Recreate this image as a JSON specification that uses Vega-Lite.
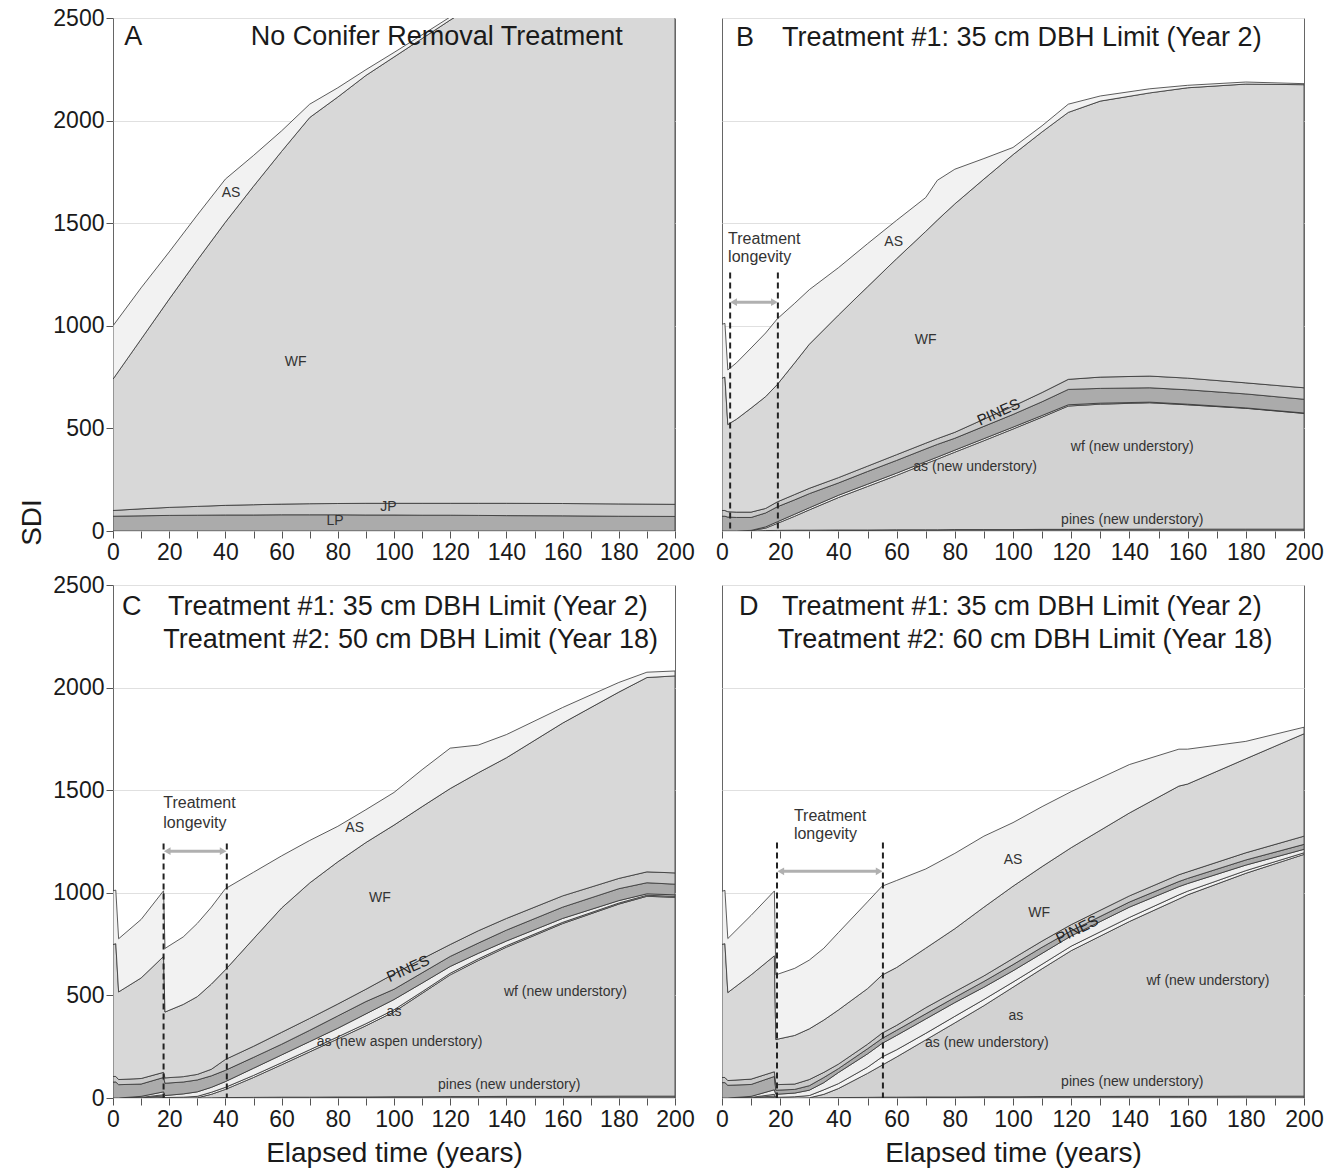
{
"$schema": "https://vega.github.io/schema/vega-lite/v6.json",
"background": "white",
"padding": {"left": 18, "top": 6, "right": 5, "bottom": 5},
"config": {
  "font": "Liberation Sans",
  "view": {"stroke": "#666", "strokeWidth": 1},
  "axis": {"labelFont": "Liberation Sans", "labelFontSize": 23, "labelColor": "#1a1a1a", "tickColor": "#555", "tickSize": 7, "tickWidth": 1, "domain": false, "titleFont": "Liberation Sans", "titleFontSize": 28, "titleFontWeight": "normal", "titleColor": "#1a1a1a", "gridColor": "#e0e0e0", "labelOverlap": false, "labelFlush": false}
},
"datasets": {
  "bands": [
    {"panel":"A","yr":0,"p":0,"w":0,"an":0,"a":0,"lp":72,"pi":100,"wf":740,"as":1000},
    {"panel":"A","yr":10,"p":0,"w":0,"an":0,"a":0,"lp":74,"pi":108,"wf":935,"as":1185},
    {"panel":"A","yr":20,"p":0,"w":0,"an":0,"a":0,"lp":76,"pi":115,"wf":1130,"as":1360},
    {"panel":"A","yr":30,"p":0,"w":0,"an":0,"a":0,"lp":77,"pi":120,"wf":1320,"as":1540},
    {"panel":"A","yr":40,"p":0,"w":0,"an":0,"a":0,"lp":78,"pi":125,"wf":1505,"as":1715},
    {"panel":"A","yr":50,"p":0,"w":0,"an":0,"a":0,"lp":78,"pi":128,"wf":1680,"as":1830},
    {"panel":"A","yr":60,"p":0,"w":0,"an":0,"a":0,"lp":79,"pi":131,"wf":1850,"as":1950},
    {"panel":"A","yr":70,"p":0,"w":0,"an":0,"a":0,"lp":79,"pi":133,"wf":2015,"as":2080},
    {"panel":"A","yr":80,"p":0,"w":0,"an":0,"a":0,"lp":79,"pi":134,"wf":2115,"as":2160},
    {"panel":"A","yr":90,"p":0,"w":0,"an":0,"a":0,"lp":78,"pi":135,"wf":2220,"as":2248},
    {"panel":"A","yr":100,"p":0,"w":0,"an":0,"a":0,"lp":78,"pi":135,"wf":2310,"as":2332},
    {"panel":"A","yr":110,"p":0,"w":0,"an":0,"a":0,"lp":77,"pi":135,"wf":2400,"as":2418},
    {"panel":"A","yr":120,"p":0,"w":0,"an":0,"a":0,"lp":77,"pi":135,"wf":2490,"as":2505},
    {"panel":"A","yr":130,"p":0,"w":0,"an":0,"a":0,"lp":76,"pi":135,"wf":2575,"as":2590},
    {"panel":"A","yr":140,"p":0,"w":0,"an":0,"a":0,"lp":75,"pi":135,"wf":2655,"as":2670},
    {"panel":"A","yr":160,"p":0,"w":0,"an":0,"a":0,"lp":74,"pi":134,"wf":2800,"as":2815},
    {"panel":"A","yr":180,"p":0,"w":0,"an":0,"a":0,"lp":72,"pi":132,"wf":2930,"as":2945},
    {"panel":"A","yr":200,"p":0,"w":0,"an":0,"a":0,"lp":71,"pi":130,"wf":3050,"as":3065},

    {"panel":"B","yr":0,"p":0,"w":0,"an":0,"a":0,"lp":72,"pi":100,"wf":745,"as":1007},
    {"panel":"B","yr":1,"p":0,"w":0,"an":0,"a":0,"lp":72,"pi":100,"wf":750,"as":1012},
    {"panel":"B","yr":2,"p":0,"w":0,"an":0,"a":0,"lp":68,"pi":94,"wf":519,"as":785},
    {"panel":"B","yr":5,"p":0,"w":0,"an":0,"a":0,"lp":66,"pi":92,"wf":545,"as":820},
    {"panel":"B","yr":10,"p":0,"w":2,"an":3,"a":3,"lp":66,"pi":92,"wf":599,"as":892},
    {"panel":"B","yr":15,"p":2,"w":14,"an":20,"a":20,"lp":88,"pi":110,"wf":655,"as":965},
    {"panel":"B","yr":19,"p":3,"w":37,"an":45,"a":45,"lp":118,"pi":142,"wf":714,"as":1034},
    {"panel":"B","yr":25,"p":4,"w":72,"an":82,"a":82,"lp":152,"pi":178,"wf":820,"as":1110},
    {"panel":"B","yr":30,"p":4,"w":103,"an":113,"a":113,"lp":182,"pi":208,"wf":910,"as":1176},
    {"panel":"B","yr":40,"p":5,"w":163,"an":174,"a":174,"lp":234,"pi":260,"wf":1052,"as":1283},
    {"panel":"B","yr":50,"p":5,"w":217,"an":228,"a":228,"lp":290,"pi":316,"wf":1190,"as":1400},
    {"panel":"B","yr":60,"p":6,"w":271,"an":282,"a":282,"lp":344,"pi":372,"wf":1327,"as":1514},
    {"panel":"B","yr":70,"p":6,"w":328,"an":338,"a":338,"lp":400,"pi":428,"wf":1460,"as":1625},
    {"panel":"B","yr":74,"p":6,"w":350,"an":360,"a":360,"lp":422,"pi":450,"wf":1515,"as":1709},
    {"panel":"B","yr":80,"p":7,"w":384,"an":394,"a":394,"lp":452,"pi":481,"wf":1594,"as":1763},
    {"panel":"B","yr":90,"p":7,"w":440,"an":450,"a":450,"lp":510,"pi":545,"wf":1715,"as":1815},
    {"panel":"B","yr":100,"p":7,"w":497,"an":506,"a":506,"lp":568,"pi":608,"wf":1834,"as":1869},
    {"panel":"B","yr":110,"p":8,"w":555,"an":563,"a":563,"lp":630,"pi":675,"wf":1945,"as":1975},
    {"panel":"B","yr":119,"p":8,"w":609,"an":615,"a":615,"lp":690,"pi":739,"wf":2040,"as":2080},
    {"panel":"B","yr":130,"p":8,"w":618,"an":623,"a":623,"lp":695,"pi":750,"wf":2095,"as":2120},
    {"panel":"B","yr":147,"p":9,"w":625,"an":628,"a":628,"lp":698,"pi":755,"wf":2135,"as":2155},
    {"panel":"B","yr":160,"p":9,"w":615,"an":618,"a":618,"lp":688,"pi":745,"wf":2160,"as":2172},
    {"panel":"B","yr":180,"p":9,"w":598,"an":600,"a":600,"lp":668,"pi":722,"wf":2178,"as":2188},
    {"panel":"B","yr":200,"p":9,"w":573,"an":575,"a":575,"lp":642,"pi":698,"wf":2175,"as":2180},

    {"panel":"C","yr":0,"p":0,"w":0,"an":0,"a":0,"lp":78,"pi":105,"wf":748,"as":1010},
    {"panel":"C","yr":1,"p":0,"w":0,"an":0,"a":0,"lp":78,"pi":105,"wf":752,"as":1013},
    {"panel":"C","yr":2,"p":0,"w":0,"an":0,"a":0,"lp":65,"pi":90,"wf":517,"as":776},
    {"panel":"C","yr":10,"p":0,"w":1,"an":3,"a":8,"lp":68,"pi":95,"wf":585,"as":870},
    {"panel":"C","yr":18,"p":2,"w":10,"an":16,"a":30,"lp":100,"pi":125,"wf":690,"as":1010},
    {"panel":"C","yr":18.5,"p":0,"w":0,"an":2,"a":12,"lp":72,"pi":98,"wf":419,"as":729},
    {"panel":"C","yr":25,"p":0,"w":0,"an":4,"a":20,"lp":78,"pi":104,"wf":456,"as":785},
    {"panel":"C","yr":30,"p":0,"w":1,"an":8,"a":30,"lp":88,"pi":115,"wf":494,"as":851},
    {"panel":"C","yr":35,"p":1,"w":18,"an":28,"a":52,"lp":108,"pi":140,"wf":555,"as":930},
    {"panel":"C","yr":40,"p":2,"w":42,"an":52,"a":80,"lp":135,"pi":188,"wf":625,"as":1020},
    {"panel":"C","yr":50,"p":3,"w":100,"an":110,"a":145,"lp":198,"pi":252,"wf":776,"as":1100},
    {"panel":"C","yr":60,"p":4,"w":162,"an":172,"a":210,"lp":262,"pi":320,"wf":926,"as":1180},
    {"panel":"C","yr":70,"p":4,"w":225,"an":235,"a":275,"lp":330,"pi":388,"wf":1048,"as":1255},
    {"panel":"C","yr":80,"p":5,"w":288,"an":298,"a":340,"lp":400,"pi":458,"wf":1151,"as":1324},
    {"panel":"C","yr":90,"p":5,"w":352,"an":362,"a":410,"lp":470,"pi":530,"wf":1245,"as":1405},
    {"panel":"C","yr":100,"p":6,"w":420,"an":430,"a":480,"lp":530,"pi":605,"wf":1330,"as":1489},
    {"panel":"C","yr":110,"p":6,"w":510,"an":518,"a":560,"lp":610,"pi":678,"wf":1420,"as":1600},
    {"panel":"C","yr":120,"p":7,"w":600,"an":608,"a":641,"lp":690,"pi":748,"wf":1508,"as":1705},
    {"panel":"C","yr":130,"p":7,"w":670,"an":678,"a":705,"lp":755,"pi":815,"wf":1585,"as":1720},
    {"panel":"C","yr":140,"p":8,"w":735,"an":742,"a":765,"lp":818,"pi":875,"wf":1658,"as":1771},
    {"panel":"C","yr":160,"p":8,"w":850,"an":856,"a":875,"lp":930,"pi":985,"wf":1827,"as":1903},
    {"panel":"C","yr":180,"p":9,"w":945,"an":950,"a":962,"lp":1020,"pi":1070,"wf":1978,"as":2025},
    {"panel":"C","yr":190,"p":9,"w":983,"an":988,"a":995,"lp":1049,"pi":1102,"wf":2049,"as":2075},
    {"panel":"C","yr":200,"p":9,"w":978,"an":983,"a":990,"lp":1042,"pi":1097,"wf":2057,"as":2081},

    {"panel":"D","yr":0,"p":0,"w":0,"an":0,"a":0,"lp":75,"pi":100,"wf":749,"as":1007},
    {"panel":"D","yr":1,"p":0,"w":0,"an":0,"a":0,"lp":75,"pi":100,"wf":752,"as":1012},
    {"panel":"D","yr":2,"p":0,"w":0,"an":0,"a":0,"lp":62,"pi":85,"wf":514,"as":777},
    {"panel":"D","yr":10,"p":0,"w":1,"an":3,"a":8,"lp":66,"pi":92,"wf":600,"as":890},
    {"panel":"D","yr":18,"p":2,"w":10,"an":18,"a":40,"lp":105,"pi":128,"wf":693,"as":1009},
    {"panel":"D","yr":18.5,"p":0,"w":0,"an":3,"a":18,"lp":38,"pi":65,"wf":285,"as":600},
    {"panel":"D","yr":25,"p":0,"w":0,"an":6,"a":24,"lp":42,"pi":68,"wf":305,"as":632},
    {"panel":"D","yr":30,"p":0,"w":1,"an":12,"a":38,"lp":60,"pi":90,"wf":337,"as":672},
    {"panel":"D","yr":35,"p":1,"w":18,"an":40,"a":75,"lp":100,"pi":125,"wf":380,"as":730},
    {"panel":"D","yr":40,"p":2,"w":46,"an":70,"a":124,"lp":143,"pi":165,"wf":429,"as":806},
    {"panel":"D","yr":50,"p":3,"w":120,"an":150,"a":215,"lp":240,"pi":262,"wf":533,"as":956},
    {"panel":"D","yr":55,"p":4,"w":160,"an":200,"a":266,"lp":290,"pi":316,"wf":599,"as":1032},
    {"panel":"D","yr":60,"p":4,"w":200,"an":235,"a":305,"lp":330,"pi":354,"wf":636,"as":1060},
    {"panel":"D","yr":70,"p":5,"w":283,"an":315,"a":385,"lp":410,"pi":440,"wf":730,"as":1116},
    {"panel":"D","yr":80,"p":5,"w":366,"an":398,"a":465,"lp":490,"pi":518,"wf":825,"as":1192},
    {"panel":"D","yr":90,"p":6,"w":450,"an":480,"a":540,"lp":568,"pi":595,"wf":930,"as":1276},
    {"panel":"D","yr":100,"p":6,"w":540,"an":565,"a":620,"lp":650,"pi":680,"wf":1032,"as":1342},
    {"panel":"D","yr":110,"p":7,"w":630,"an":652,"a":705,"lp":735,"pi":765,"wf":1128,"as":1420},
    {"panel":"D","yr":120,"p":7,"w":718,"an":740,"a":790,"lp":815,"pi":845,"wf":1220,"as":1493},
    {"panel":"D","yr":140,"p":8,"w":860,"an":880,"a":930,"lp":955,"pi":985,"wf":1389,"as":1625},
    {"panel":"D","yr":157,"p":8,"w":970,"an":990,"a":1030,"lp":1055,"pi":1088,"wf":1520,"as":1700},
    {"panel":"D","yr":160,"p":8,"w":990,"an":1008,"a":1045,"lp":1070,"pi":1102,"wf":1530,"as":1700},
    {"panel":"D","yr":180,"p":9,"w":1095,"an":1108,"a":1135,"lp":1160,"pi":1195,"wf":1653,"as":1738},
    {"panel":"D","yr":200,"p":9,"w":1187,"an":1195,"a":1212,"lp":1236,"pi":1276,"wf":1775,"as":1807}
  ],
  "dashes": [
    {"panel":"B","yr":2.8,"v":1260},{"panel":"B","yr":19.2,"v":1260},
    {"panel":"C","yr":18,"v":1240},{"panel":"C","yr":40.5,"v":1240},
    {"panel":"D","yr":18.9,"v":1245},{"panel":"D","yr":55.3,"v":1245}
  ],
  "arrows": [
    {"panel":"B","yr":4.0,"yr2":18.0,"v":1115},
    {"panel":"C","yr":19.3,"yr2":39.2,"v":1203},
    {"panel":"D","yr":20.2,"yr2":54.0,"v":1105}
  ],
  "labels": [
    {"panel":"A","yr":42,"v":1647,"t":"AS"},{"panel":"A","yr":65,"v":823,"t":"WF"},{"panel":"A","yr":98,"v":117,"t":"JP"},{"panel":"A","yr":79,"v":49,"t":"LP"},
    {"panel":"B","yr":59,"v":1408,"t":"AS"},{"panel":"B","yr":70,"v":930,"t":"WF"},{"panel":"B","yr":95,"v":580,"t":"PINES"},{"panel":"B","yr":141,"v":409,"t":"wf (new understory)"},{"panel":"B","yr":87,"v":312,"t":"as (new understory)"},{"panel":"B","yr":141,"v":54,"t":"pines (new understory)"},
    {"panel":"C","yr":86,"v":1316,"t":"AS"},{"panel":"C","yr":95,"v":974,"t":"WF"},{"panel":"C","yr":105,"v":631,"t":"PINES"},{"panel":"C","yr":100,"v":421,"t":"as"},{"panel":"C","yr":102,"v":274,"t":"as (new aspen understory)"},{"panel":"C","yr":161,"v":519,"t":"wf (new understory)"},{"panel":"C","yr":141,"v":64,"t":"pines (new understory)"},
    {"panel":"D","yr":100,"v":1160,"t":"AS"},{"panel":"D","yr":109,"v":900,"t":"WF"},{"panel":"D","yr":122,"v":822,"t":"PINES"},{"panel":"D","yr":101,"v":401,"t":"as"},{"panel":"D","yr":91,"v":269,"t":"as (new understory)"},{"panel":"D","yr":167,"v":572,"t":"wf (new understory)"},{"panel":"D","yr":141,"v":78,"t":"pines (new understory)"}
  ],
  "notes": [
    {"panel":"B","yr":2.1,"v":1423,"t":"Treatment"},{"panel":"B","yr":2.1,"v":1335,"t":"longevity"},
    {"panel":"C","yr":17.9,"v":1438,"t":"Treatment"},{"panel":"C","yr":17.9,"v":1340,"t":"longevity"},
    {"panel":"D","yr":24.7,"v":1375,"t":"Treatment"},{"panel":"D","yr":24.7,"v":1287,"t":"longevity"}
  ],
  "titles": [
    {"panel":"A","yr":4,"v":2405,"t":"A"},{"panel":"A","yr":49,"v":2405,"t":"No Conifer Removal Treatment"},
    {"panel":"B","yr":4.8,"v":2402,"t":"B"},{"panel":"B","yr":20.6,"v":2402,"t":"Treatment #1: 35 cm DBH Limit (Year 2)"},
    {"panel":"C","yr":3.2,"v":2392,"t":"C"},{"panel":"C","yr":19.6,"v":2392,"t":"Treatment #1: 35 cm DBH Limit (Year 2)"},{"panel":"C","yr":17.9,"v":2231,"t":"Treatment #2: 50 cm DBH Limit (Year 18)"},
    {"panel":"D","yr":5.8,"v":2392,"t":"D"},{"panel":"D","yr":20.6,"v":2392,"t":"Treatment #1: 35 cm DBH Limit (Year 2)"},{"panel":"D","yr":19.2,"v":2231,"t":"Treatment #2: 60 cm DBH Limit (Year 18)"}
  ]
},
"spacing": 8,
"vconcat": [
 {"hconcat": [
  {"width": 562, "height": 513,
   "encoding": {"x": {"field": "yr", "type": "quantitative", "scale": {"domain": [0,200], "nice": false, "zero": false}, "axis": {"values": [0,10,20,30,40,50,60,70,80,90,100,110,120,130,140,150,160,170,180,190,200], "labelExpr": "datum.value % 20 === 0 ? datum.label : ''", "title": null, "grid": false, "labelPadding": 3}}},
   "layer": [
    {"data": {"name": "bands"}, "transform": [{"filter": "datum.panel === 'A'"}],
     "layer": [
      {"mark": {"type": "area", "clip": true, "fill": "#ababab", "stroke": "#333", "strokeWidth": 0.8}, "encoding": {"y": {"field": "lp", "type": "quantitative", "scale": {"domain": [0,2500], "nice": false}}, "y2": {"datum": 0}}},
      {"mark": {"type": "area", "clip": true, "fill": "#cacaca", "stroke": "#333", "strokeWidth": 0.8}, "encoding": {"y": {"field": "pi", "type": "quantitative", "scale": {"domain": [0,2500], "nice": false}}, "y2": {"field": "lp"}}},
      {"mark": {"type": "area", "clip": true, "fill": "#d8d8d8", "stroke": "#333", "strokeWidth": 0.8}, "encoding": {"y": {"field": "wf", "type": "quantitative", "scale": {"domain": [0,2500], "nice": false}}, "y2": {"field": "pi"}}},
      {"mark": {"type": "area", "clip": true, "fill": "#f2f2f2", "stroke": "#333", "strokeWidth": 0.8}, "encoding": {"y": {"field": "as", "type": "quantitative", "scale": {"domain": [0,2500], "nice": false}}, "y2": {"field": "wf"}}}
     ]},
    {"data": {"name": "labels"}, "transform": [{"filter": "datum.panel === 'A' && datum.t !== 'PINES'"}], "mark": {"type": "text", "fontSize": 14, "color": "#333", "baseline": "middle"}, "encoding": {"y": {"field": "v", "type": "quantitative", "scale": {"domain": [0,2500], "nice": false}, "axis": {"values": [0,500,1000,1500,2000,2500], "format": "d", "grid": true, "title": "SDI", "titleY": 504, "titlePadding": 6}}, "text": {"field": "t"}}},
    {"data": {"name": "titles"}, "transform": [{"filter": "datum.panel === 'A'"}], "mark": {"type": "text", "fontSize": 27, "color": "#1a1a1a", "align": "left", "baseline": "middle"}, "encoding": {"y": {"field": "v", "type": "quantitative", "scale": {"domain": [0,2500], "nice": false}}, "text": {"field": "t"}}}
   ]},
  {"width": 582, "height": 513,
   "encoding": {"x": {"field": "yr", "type": "quantitative", "scale": {"domain": [0,200], "nice": false, "zero": false}, "axis": {"values": [0,10,20,30,40,50,60,70,80,90,100,110,120,130,140,150,160,170,180,190,200], "labelExpr": "datum.value % 20 === 0 ? datum.label : ''", "title": null, "grid": false, "labelPadding": 3}}},
   "layer": [
    {"data": {"name": "bands"}, "transform": [{"filter": "datum.panel === 'B'"}],
     "layer": [
      {"mark": {"type": "area", "clip": true, "fill": "#8a8a8a", "stroke": "#333", "strokeWidth": 0.8}, "encoding": {"y": {"field": "p", "type": "quantitative", "scale": {"domain": [0,2500], "nice": false}}, "y2": {"datum": 0}}},
      {"mark": {"type": "area", "clip": true, "fill": "#d2d2d2", "stroke": "#333", "strokeWidth": 0.8}, "encoding": {"y": {"field": "w", "type": "quantitative", "scale": {"domain": [0,2500], "nice": false}}, "y2": {"field": "p"}}},
      {"mark": {"type": "area", "clip": true, "fill": "#f3f3f3", "stroke": "#333", "strokeWidth": 0.8}, "encoding": {"y": {"field": "an", "type": "quantitative", "scale": {"domain": [0,2500], "nice": false}}, "y2": {"field": "w"}}},
      {"mark": {"type": "area", "clip": true, "fill": "#ababab", "stroke": "#333", "strokeWidth": 0.8}, "encoding": {"y": {"field": "lp", "type": "quantitative", "scale": {"domain": [0,2500], "nice": false}}, "y2": {"field": "a"}}},
      {"mark": {"type": "area", "clip": true, "fill": "#cacaca", "stroke": "#333", "strokeWidth": 0.8}, "encoding": {"y": {"field": "pi", "type": "quantitative", "scale": {"domain": [0,2500], "nice": false}}, "y2": {"field": "lp"}}},
      {"mark": {"type": "area", "clip": true, "fill": "#d8d8d8", "stroke": "#333", "strokeWidth": 0.8}, "encoding": {"y": {"field": "wf", "type": "quantitative", "scale": {"domain": [0,2500], "nice": false}}, "y2": {"field": "pi"}}},
      {"mark": {"type": "area", "clip": true, "fill": "#f2f2f2", "stroke": "#333", "strokeWidth": 0.8}, "encoding": {"y": {"field": "as", "type": "quantitative", "scale": {"domain": [0,2500], "nice": false}}, "y2": {"field": "wf"}}}
     ]},
    {"data": {"name": "dashes"}, "transform": [{"filter": "datum.panel === 'B'"}], "mark": {"type": "rule", "strokeDash": [6,4], "strokeWidth": 2, "color": "#222"}, "encoding": {"y": {"field": "v", "type": "quantitative", "scale": {"domain": [0,2500], "nice": false}}, "y2": {"datum": 0}}},
    {"data": {"name": "arrows"}, "transform": [{"filter": "datum.panel === 'B'"}], "mark": {"type": "rule", "strokeWidth": 3, "color": "#b0b0b0"}, "encoding": {"x2": {"field": "yr2"}, "y": {"field": "v", "type": "quantitative", "scale": {"domain": [0,2500], "nice": false}}}},
    {"data": {"name": "arrows"}, "transform": [{"filter": "datum.panel === 'B'"}], "mark": {"type": "point", "shape": "triangle-left", "filled": true, "size": 60, "color": "#b0b0b0", "opacity": 1}, "encoding": {"y": {"field": "v", "type": "quantitative", "scale": {"domain": [0,2500], "nice": false}}}},
    {"data": {"name": "arrows"}, "transform": [{"filter": "datum.panel === 'B'"}], "mark": {"type": "point", "shape": "triangle-right", "filled": true, "size": 60, "color": "#b0b0b0", "opacity": 1}, "encoding": {"x": {"field": "yr2", "type": "quantitative", "scale": {"domain": [0,200], "nice": false, "zero": false}}, "y": {"field": "v", "type": "quantitative", "scale": {"domain": [0,2500], "nice": false}}}},
    {"data": {"name": "labels"}, "transform": [{"filter": "datum.panel === 'B' && datum.t !== 'PINES'"}], "mark": {"type": "text", "fontSize": 14, "color": "#333", "baseline": "middle"}, "encoding": {"y": {"field": "v", "type": "quantitative", "scale": {"domain": [0,2500], "nice": false}, "axis": {"values": [0,500,1000,1500,2000,2500], "grid": true, "labels": false, "ticks": false, "title": null}}, "text": {"field": "t"}}},
    {"data": {"name": "labels"}, "transform": [{"filter": "datum.panel === 'B' && datum.t === 'PINES'"}], "mark": {"type": "text", "fontSize": 15, "color": "#222", "baseline": "middle", "angle": 336}, "encoding": {"y": {"field": "v", "type": "quantitative", "scale": {"domain": [0,2500], "nice": false}}, "text": {"field": "t"}}},
    {"data": {"name": "notes"}, "transform": [{"filter": "datum.panel === 'B'"}], "mark": {"type": "text", "fontSize": 16, "color": "#333", "align": "left", "baseline": "middle"}, "encoding": {"y": {"field": "v", "type": "quantitative", "scale": {"domain": [0,2500], "nice": false}}, "text": {"field": "t"}}},
    {"data": {"name": "titles"}, "transform": [{"filter": "datum.panel === 'B'"}], "mark": {"type": "text", "fontSize": 27, "color": "#1a1a1a", "align": "left", "baseline": "middle"}, "encoding": {"y": {"field": "v", "type": "quantitative", "scale": {"domain": [0,2500], "nice": false}}, "text": {"field": "t"}}}
   ]}
 ], "spacing": 20},
 {"hconcat": [
  {"width": 562, "height": 513,
   "encoding": {"x": {"field": "yr", "type": "quantitative", "scale": {"domain": [0,200], "nice": false, "zero": false}, "axis": {"values": [0,10,20,30,40,50,60,70,80,90,100,110,120,130,140,150,160,170,180,190,200], "labelExpr": "datum.value % 20 === 0 ? datum.label : ''", "title": "Elapsed time (years)", "titlePadding": 8, "grid": false, "labelPadding": 3}}},
   "layer": [
    {"data": {"name": "bands"}, "transform": [{"filter": "datum.panel === 'C'"}],
     "layer": [
      {"mark": {"type": "area", "clip": true, "fill": "#8a8a8a", "stroke": "#333", "strokeWidth": 0.8}, "encoding": {"y": {"field": "p", "type": "quantitative", "scale": {"domain": [0,2500], "nice": false}}, "y2": {"datum": 0}}},
      {"mark": {"type": "area", "clip": true, "fill": "#d2d2d2", "stroke": "#333", "strokeWidth": 0.8}, "encoding": {"y": {"field": "w", "type": "quantitative", "scale": {"domain": [0,2500], "nice": false}}, "y2": {"field": "p"}}},
      {"mark": {"type": "area", "clip": true, "fill": "#f3f3f3", "stroke": "#333", "strokeWidth": 0.8}, "encoding": {"y": {"field": "an", "type": "quantitative", "scale": {"domain": [0,2500], "nice": false}}, "y2": {"field": "w"}}},
      {"mark": {"type": "area", "clip": true, "fill": "#eeeeee", "stroke": "#333", "strokeWidth": 0.8}, "encoding": {"y": {"field": "a", "type": "quantitative", "scale": {"domain": [0,2500], "nice": false}}, "y2": {"field": "an"}}},
      {"mark": {"type": "area", "clip": true, "fill": "#ababab", "stroke": "#333", "strokeWidth": 0.8}, "encoding": {"y": {"field": "lp", "type": "quantitative", "scale": {"domain": [0,2500], "nice": false}}, "y2": {"field": "a"}}},
      {"mark": {"type": "area", "clip": true, "fill": "#cacaca", "stroke": "#333", "strokeWidth": 0.8}, "encoding": {"y": {"field": "pi", "type": "quantitative", "scale": {"domain": [0,2500], "nice": false}}, "y2": {"field": "lp"}}},
      {"mark": {"type": "area", "clip": true, "fill": "#d8d8d8", "stroke": "#333", "strokeWidth": 0.8}, "encoding": {"y": {"field": "wf", "type": "quantitative", "scale": {"domain": [0,2500], "nice": false}}, "y2": {"field": "pi"}}},
      {"mark": {"type": "area", "clip": true, "fill": "#f2f2f2", "stroke": "#333", "strokeWidth": 0.8}, "encoding": {"y": {"field": "as", "type": "quantitative", "scale": {"domain": [0,2500], "nice": false}}, "y2": {"field": "wf"}}}
     ]},
    {"data": {"name": "dashes"}, "transform": [{"filter": "datum.panel === 'C'"}], "mark": {"type": "rule", "strokeDash": [6,4], "strokeWidth": 2, "color": "#222"}, "encoding": {"y": {"field": "v", "type": "quantitative", "scale": {"domain": [0,2500], "nice": false}}, "y2": {"datum": 0}}},
    {"data": {"name": "arrows"}, "transform": [{"filter": "datum.panel === 'C'"}], "mark": {"type": "rule", "strokeWidth": 3, "color": "#b0b0b0"}, "encoding": {"x2": {"field": "yr2"}, "y": {"field": "v", "type": "quantitative", "scale": {"domain": [0,2500], "nice": false}}}},
    {"data": {"name": "arrows"}, "transform": [{"filter": "datum.panel === 'C'"}], "mark": {"type": "point", "shape": "triangle-left", "filled": true, "size": 60, "color": "#b0b0b0", "opacity": 1}, "encoding": {"y": {"field": "v", "type": "quantitative", "scale": {"domain": [0,2500], "nice": false}}}},
    {"data": {"name": "arrows"}, "transform": [{"filter": "datum.panel === 'C'"}], "mark": {"type": "point", "shape": "triangle-right", "filled": true, "size": 60, "color": "#b0b0b0", "opacity": 1}, "encoding": {"x": {"field": "yr2", "type": "quantitative", "scale": {"domain": [0,200], "nice": false, "zero": false}}, "y": {"field": "v", "type": "quantitative", "scale": {"domain": [0,2500], "nice": false}}}},
    {"data": {"name": "labels"}, "transform": [{"filter": "datum.panel === 'C' && datum.t !== 'PINES'"}], "mark": {"type": "text", "fontSize": 14, "color": "#333", "baseline": "middle"}, "encoding": {"y": {"field": "v", "type": "quantitative", "scale": {"domain": [0,2500], "nice": false}, "axis": {"values": [0,500,1000,1500,2000,2500], "format": "d", "grid": true, "title": null}}, "text": {"field": "t"}}},
    {"data": {"name": "labels"}, "transform": [{"filter": "datum.panel === 'C' && datum.t === 'PINES'"}], "mark": {"type": "text", "fontSize": 15, "color": "#222", "baseline": "middle", "angle": 336}, "encoding": {"y": {"field": "v", "type": "quantitative", "scale": {"domain": [0,2500], "nice": false}}, "text": {"field": "t"}}},
    {"data": {"name": "notes"}, "transform": [{"filter": "datum.panel === 'C'"}], "mark": {"type": "text", "fontSize": 16, "color": "#333", "align": "left", "baseline": "middle"}, "encoding": {"y": {"field": "v", "type": "quantitative", "scale": {"domain": [0,2500], "nice": false}}, "text": {"field": "t"}}},
    {"data": {"name": "titles"}, "transform": [{"filter": "datum.panel === 'C'"}], "mark": {"type": "text", "fontSize": 27, "color": "#1a1a1a", "align": "left", "baseline": "middle"}, "encoding": {"y": {"field": "v", "type": "quantitative", "scale": {"domain": [0,2500], "nice": false}}, "text": {"field": "t"}}}
   ]},
  {"width": 582, "height": 513,
   "encoding": {"x": {"field": "yr", "type": "quantitative", "scale": {"domain": [0,200], "nice": false, "zero": false}, "axis": {"values": [0,10,20,30,40,50,60,70,80,90,100,110,120,130,140,150,160,170,180,190,200], "labelExpr": "datum.value % 20 === 0 ? datum.label : ''", "title": "Elapsed time (years)", "titlePadding": 8, "grid": false, "labelPadding": 3}}},
   "layer": [
    {"data": {"name": "bands"}, "transform": [{"filter": "datum.panel === 'D'"}],
     "layer": [
      {"mark": {"type": "area", "clip": true, "fill": "#8a8a8a", "stroke": "#333", "strokeWidth": 0.8}, "encoding": {"y": {"field": "p", "type": "quantitative", "scale": {"domain": [0,2500], "nice": false}}, "y2": {"datum": 0}}},
      {"mark": {"type": "area", "clip": true, "fill": "#d2d2d2", "stroke": "#333", "strokeWidth": 0.8}, "encoding": {"y": {"field": "w", "type": "quantitative", "scale": {"domain": [0,2500], "nice": false}}, "y2": {"field": "p"}}},
      {"mark": {"type": "area", "clip": true, "fill": "#f3f3f3", "stroke": "#333", "strokeWidth": 0.8}, "encoding": {"y": {"field": "an", "type": "quantitative", "scale": {"domain": [0,2500], "nice": false}}, "y2": {"field": "w"}}},
      {"mark": {"type": "area", "clip": true, "fill": "#eeeeee", "stroke": "#333", "strokeWidth": 0.8}, "encoding": {"y": {"field": "a", "type": "quantitative", "scale": {"domain": [0,2500], "nice": false}}, "y2": {"field": "an"}}},
      {"mark": {"type": "area", "clip": true, "fill": "#ababab", "stroke": "#333", "strokeWidth": 0.8}, "encoding": {"y": {"field": "lp", "type": "quantitative", "scale": {"domain": [0,2500], "nice": false}}, "y2": {"field": "a"}}},
      {"mark": {"type": "area", "clip": true, "fill": "#cacaca", "stroke": "#333", "strokeWidth": 0.8}, "encoding": {"y": {"field": "pi", "type": "quantitative", "scale": {"domain": [0,2500], "nice": false}}, "y2": {"field": "lp"}}},
      {"mark": {"type": "area", "clip": true, "fill": "#d8d8d8", "stroke": "#333", "strokeWidth": 0.8}, "encoding": {"y": {"field": "wf", "type": "quantitative", "scale": {"domain": [0,2500], "nice": false}}, "y2": {"field": "pi"}}},
      {"mark": {"type": "area", "clip": true, "fill": "#f2f2f2", "stroke": "#333", "strokeWidth": 0.8}, "encoding": {"y": {"field": "as", "type": "quantitative", "scale": {"domain": [0,2500], "nice": false}}, "y2": {"field": "wf"}}}
     ]},
    {"data": {"name": "dashes"}, "transform": [{"filter": "datum.panel === 'D'"}], "mark": {"type": "rule", "strokeDash": [6,4], "strokeWidth": 2, "color": "#222"}, "encoding": {"y": {"field": "v", "type": "quantitative", "scale": {"domain": [0,2500], "nice": false}}, "y2": {"datum": 0}}},
    {"data": {"name": "arrows"}, "transform": [{"filter": "datum.panel === 'D'"}], "mark": {"type": "rule", "strokeWidth": 3, "color": "#b0b0b0"}, "encoding": {"x2": {"field": "yr2"}, "y": {"field": "v", "type": "quantitative", "scale": {"domain": [0,2500], "nice": false}}}},
    {"data": {"name": "arrows"}, "transform": [{"filter": "datum.panel === 'D'"}], "mark": {"type": "point", "shape": "triangle-left", "filled": true, "size": 60, "color": "#b0b0b0", "opacity": 1}, "encoding": {"y": {"field": "v", "type": "quantitative", "scale": {"domain": [0,2500], "nice": false}}}},
    {"data": {"name": "arrows"}, "transform": [{"filter": "datum.panel === 'D'"}], "mark": {"type": "point", "shape": "triangle-right", "filled": true, "size": 60, "color": "#b0b0b0", "opacity": 1}, "encoding": {"x": {"field": "yr2", "type": "quantitative", "scale": {"domain": [0,200], "nice": false, "zero": false}}, "y": {"field": "v", "type": "quantitative", "scale": {"domain": [0,2500], "nice": false}}}},
    {"data": {"name": "labels"}, "transform": [{"filter": "datum.panel === 'D' && datum.t !== 'PINES'"}], "mark": {"type": "text", "fontSize": 14, "color": "#333", "baseline": "middle"}, "encoding": {"y": {"field": "v", "type": "quantitative", "scale": {"domain": [0,2500], "nice": false}, "axis": {"values": [0,500,1000,1500,2000,2500], "grid": true, "labels": false, "ticks": false, "title": null}}, "text": {"field": "t"}}},
    {"data": {"name": "labels"}, "transform": [{"filter": "datum.panel === 'D' && datum.t === 'PINES'"}], "mark": {"type": "text", "fontSize": 15, "color": "#222", "baseline": "middle", "angle": 334}, "encoding": {"y": {"field": "v", "type": "quantitative", "scale": {"domain": [0,2500], "nice": false}}, "text": {"field": "t"}}},
    {"data": {"name": "notes"}, "transform": [{"filter": "datum.panel === 'D'"}], "mark": {"type": "text", "fontSize": 16, "color": "#333", "align": "left", "baseline": "middle"}, "encoding": {"y": {"field": "v", "type": "quantitative", "scale": {"domain": [0,2500], "nice": false}}, "text": {"field": "t"}}},
    {"data": {"name": "titles"}, "transform": [{"filter": "datum.panel === 'D'"}], "mark": {"type": "text", "fontSize": 27, "color": "#1a1a1a", "align": "left", "baseline": "middle"}, "encoding": {"y": {"field": "v", "type": "quantitative", "scale": {"domain": [0,2500], "nice": false}}, "text": {"field": "t"}}}
   ]}
 ], "spacing": 20}
]
}
